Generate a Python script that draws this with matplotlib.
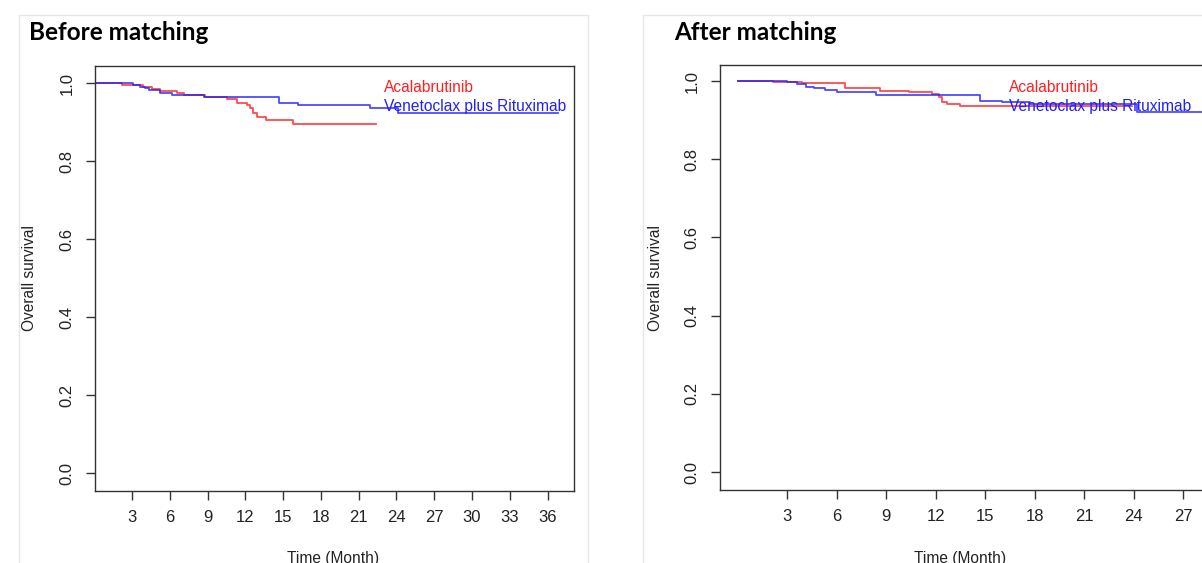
#!/usr/bin/env python3
"""
Kaplan-Meier: supervivencia global antes y despues del emparejamiento.
Acalabrutinib vs Venetoclax + Rituximab.
"""
import matplotlib
matplotlib.use("Agg")
import matplotlib.pyplot as plt
from matplotlib.patches import Rectangle

plt.rcParams.update({"font.family": ["Liberation Sans", "DejaVu Sans"]})

W, H = 1202, 563

# --- datos (meses, supervivencia) ---
before_acala_t = [0, 2.2, 3.9, 4.6, 5.2, 6.6, 7.1, 8.8, 10.5, 11.3, 12.1, 12.4, 12.6, 12.9, 13.6, 15.8, 22.4]
before_acala_s = [1.0, 0.996, 0.991, 0.984, 0.980, 0.975, 0.969, 0.963, 0.958, 0.948, 0.944, 0.935, 0.924,
                  0.914, 0.905, 0.895, 0.895]
before_vr_t = [0, 3.1, 3.6, 4.0, 4.3, 5.2, 6.2, 8.7, 10.5, 14.7, 16.2, 21.9, 24.1, 36.8]
before_vr_s = [1.0, 0.995, 0.991, 0.986, 0.982, 0.975, 0.969, 0.965, 0.963, 0.950, 0.944, 0.935, 0.924, 0.924]

after_acala_t = [0, 2.1, 3.9, 6.5, 8.6, 10.4, 11.8, 12.2, 12.4, 12.7, 13.5, 23.9]
after_acala_s = [1.0, 0.997, 0.995, 0.981, 0.974, 0.971, 0.966, 0.959, 0.947, 0.941, 0.937, 0.937]
after_vr_t = [0, 3.0, 3.6, 4.1, 4.6, 5.3, 6.0, 8.4, 14.7, 16.0, 17.7, 24.2, 28.5]
after_vr_s = [1.0, 0.997, 0.992, 0.986, 0.981, 0.977, 0.971, 0.965, 0.950, 0.946, 0.940, 0.922, 0.922]

before_xticks = [3, 6, 9, 12, 15, 18, 21, 24, 27, 30, 33, 36]
after_xticks = [3, 6, 9, 12, 15, 18, 21, 24, 27]
yticks = [0.0, 0.2, 0.4, 0.6, 0.8, 1.0]
groups = ["Acalabrutinib", "Venetoclax plus Rituximab"]
colors = ["#ff2020", "#2020ff"]


def fx(px):
    return px / W


def fy(py):
    return 1 - py / H


fig = plt.figure(figsize=(W / 100, H / 100), dpi=100)

# marcos de los paneles (captura del documento)
for x0, x1 in [(19, 588), (643, 1210)]:
    fig.patches.append(Rectangle((fx(x0), fy(H + 5)), fx(x1 - x0), (H - 10) / H, transform=fig.transFigure,
                                 fill=False, edgecolor="#e6e6e6", linewidth=1.0))


def km_panel(rect, xlim, ylim, xticks, series, title, title_x, legend_x, ylab_x, xlab_x):
    ax = fig.add_axes(rect)
    for (t, s), c in zip(series, colors):
        ax.step(t, s, where="post", color=c, linewidth=1.3, alpha=0.8)
    ax.set_xlim(*xlim)
    ax.set_ylim(*ylim)
    ax.set_xticks(xticks)
    ax.set_yticks(yticks)
    ax.set_yticklabels([f"{v:.1f}" for v in yticks], rotation=90, va="center")
    ax.tick_params(axis="both", direction="out", length=6.5, width=1.0, color="#333333",
                   labelsize=12, labelcolor="#222222")
    ax.tick_params(axis="x", pad=7)
    ax.tick_params(axis="y", pad=8)
    for sp in ax.spines.values():
        sp.set_color("#333333")
        sp.set_linewidth(1.0)
    fig.text(fx(title_x), fy(32), title, family=["Lato", "DejaVu Sans"], fontweight="bold",
             fontsize=17.5, va="center", ha="left", color="black")
    fig.text(fx(legend_x), fy(88), groups[0], color=colors[0], fontsize=11.2, va="center", ha="left")
    fig.text(fx(legend_x), fy(106), groups[1], color=colors[1], fontsize=11.2, va="center", ha="left")
    fig.text(fx(ylab_x), fy(278), "Overall survival", rotation=90, fontsize=11.2, va="center", ha="center",
             color="#222222")
    fig.text(fx(xlab_x), fy(558), "Time (Month)", fontsize=11.2, va="center", ha="center", color="#222222")
    return ax


km_panel([fx(95), fy(491), fx(574 - 95), (491 - 66) / H], (0.05, 38.1), (-0.046, 1.0436), before_xticks,
         [(before_acala_t, before_acala_s), (before_vr_t, before_vr_s)],
         "Before matching", 29, 384, 30, 333)

km_panel([fx(720), fy(490), fx(1209 - 720), (490 - 65) / H], (-1.09, 28.58), (-0.046, 1.041), after_xticks,
         [(after_acala_t, after_acala_s), (after_vr_t, after_vr_s)],
         "After matching", 674, 1009, 655, 960)

fig.savefig("out.png", dpi=100, facecolor="white")
